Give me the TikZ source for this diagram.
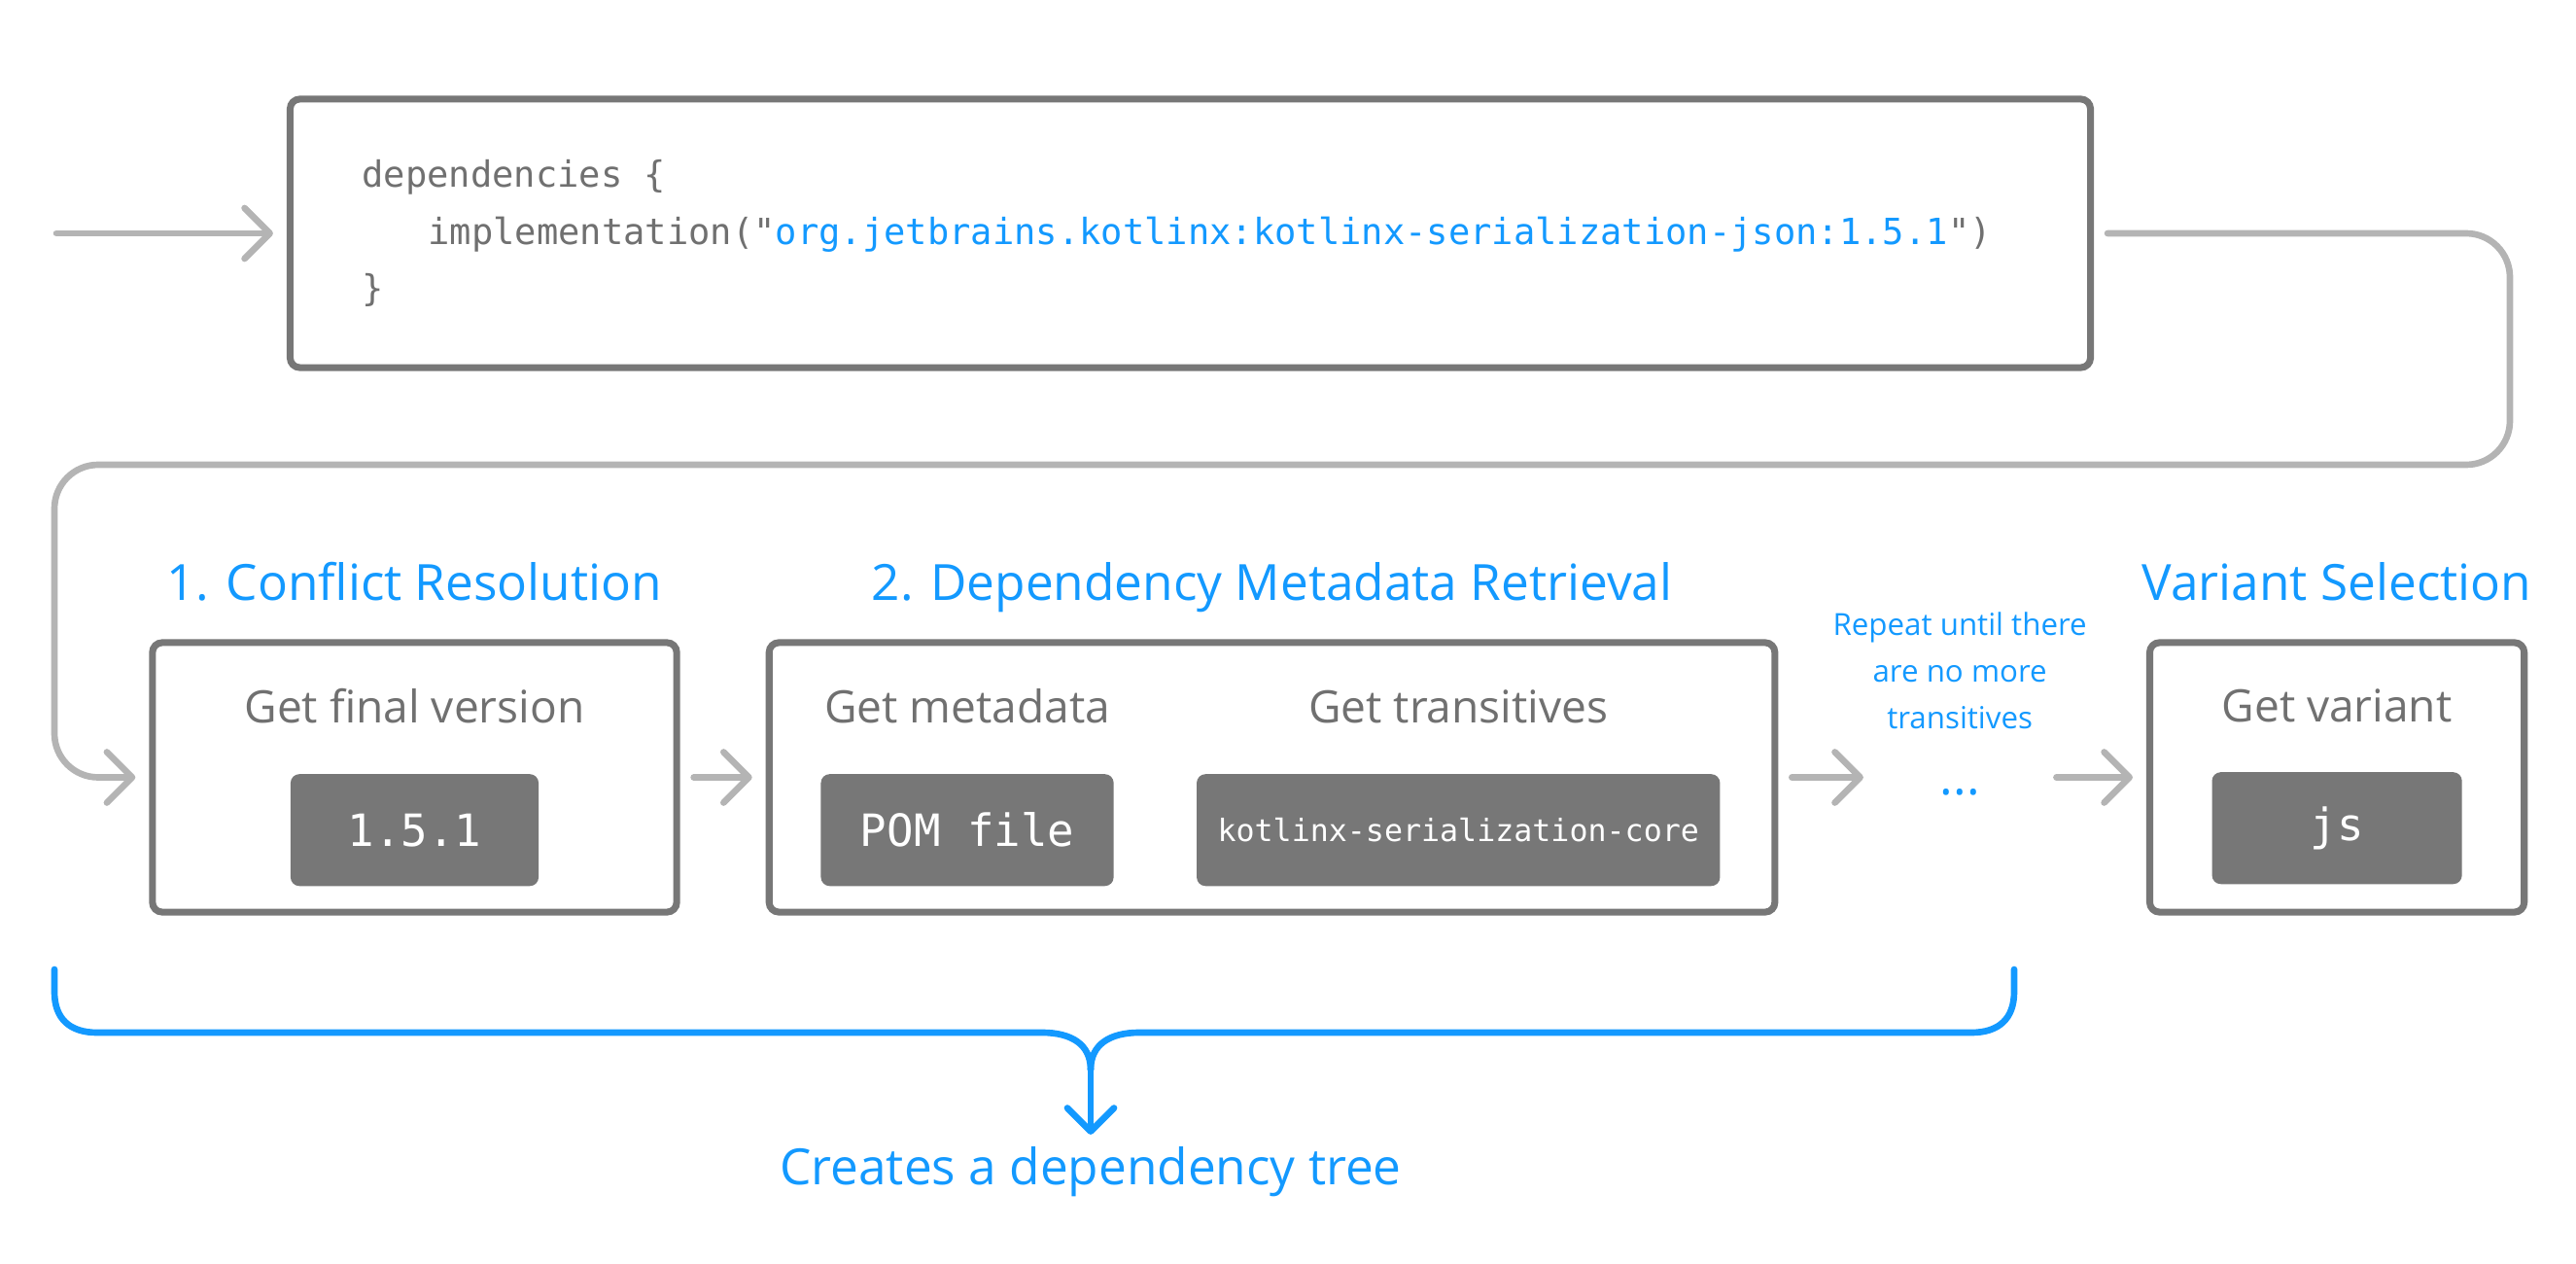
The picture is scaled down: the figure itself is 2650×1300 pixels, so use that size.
\documentclass[tikz,border=0pt]{standalone}
\usepackage{fontspec}
\setmainfont{Open Sans}
\setmonofont{DejaVu Sans Mono}
\usepackage{tikz}
\usetikzlibrary{arrows.meta}
\usetikzlibrary{positioning}

\definecolor{frame}{HTML}{777777}
\definecolor{wire}{HTML}{B4B4B4}
\definecolor{accent}{HTML}{1399FF}
\definecolor{label}{HTML}{707070}

\tikzset{every picture/.style={node distance=10mm, >={Straight Barb[length=2.6mm,width=5.2mm,round]}}}
\tikzstyle{codebox}  = [draw=frame, line width=2pt, rounded corners=1mm, minimum height=27.6mm, text width=170.3mm, align=left, inner xsep=7.4mm, text=label, font=\ttfamily\fontsize{10.55}{16.7}\selectfont]
\tikzstyle{stage}    = [draw=frame, line width=2pt, rounded corners=1mm, minimum height=27.7mm, inner sep=0pt]
\tikzstyle{chip}     = [fill=frame, rounded corners=0.9mm, minimum height=11.5mm, inner sep=0pt, text=white, font=\ttfamily\fontsize{13}{13}\selectfont]
\tikzstyle{caption}  = [text=label, inner sep=0pt, font=\fontsize{13.1}{15}\selectfont]
\tikzstyle{heading}  = [text=accent, inner sep=0pt, text depth=0pt, font=\fontsize{14.6}{17}\selectfont]
\tikzstyle{note}     = [text=accent, inner sep=0pt, align=center, font=\fontsize{8.9}{13.6}\selectfont]
\tikzstyle{to}       = [->, draw=wire, line width=1.9pt, line cap=round, shorten >=1.4mm, shorten <=1.4mm]
\tikzstyle{brace}    = [draw=accent, line width=1.9pt, line cap=round, line join=round]
\tikzstyle{terminal} = [coordinate]

\begin{document}
\begin{tikzpicture}[x=0.01cm, y=-0.01cm]
	\useasboundingbox (0,0) rectangle (2650,1300);

	\node[codebox]	(code)	at (1224.5,240)	{dependencies\hspace{0.602em}\{\\\hspace*{6.8mm}implementation("\textcolor{accent}{org.jetbrains.kotlinx:kotlinx-serialization-json:1.5.1}")\\\}};

	\node[stage, minimum width=53.9mm]	(resolve)	at (426.5,799.5)	{};
	\node[stage, minimum width=103.4mm]	(metadata)	[right=8.8mm of resolve]	{};
	\node[inner sep=0pt, minimum width=16.9mm, text height=10pt, text depth=0pt, text=accent, font=\fontsize{14.6}{17}\selectfont]	(dots)	[right=10.15mm of metadata]	{...};
	\node[stage, minimum width=38.5mm]	(variant)	[right=10.65mm of dots]	{};

	\node[heading]	(h1)	[above=3.9mm of resolve]	{1. Conflict Resolution};
	\node[heading]	(h2)	[above=3.9mm of metadata]	{2. Dependency Metadata Retrieval};
	\node[heading]	(h3)	[above=3.9mm of variant]	{Variant Selection};
	\node[note]	(repeat)	[above=3.1mm of dots]	{Repeat until there\\are no more\\transitives};

	\node[chip, minimum width=25.5mm]	(version)	[below=13.8mm of resolve.north]	{1.5.1};
	\node[chip, minimum width=30.1mm]	(pom)	[below right=13.8mm and 5.6mm of metadata.north west]	{POM file};
	\node[chip, minimum width=53.8mm, font=\ttfamily\fontsize{9}{9}\selectfont]	(core)	[right=8.4mm of pom]	{kotlinx-serialization-core};
	\node[chip, minimum width=25.7mm]	(js)	[below=13.6mm of variant.north]	{js};

	\node[caption]	[above=5.1mm of version]	{Get final version};
	\node[caption]	[above=5.1mm of pom]	{Get metadata};
	\node[caption]	[above=5.1mm of core]	{Get transitives};
	\node[caption]	[above=5mm of js]	{Get variant};

	\node[terminal]	(input)	at (44,240)	{};
	\node[terminal]	(bendR)	at (2582,478)	{};
	\node[terminal]	(bendL)	at (56,478)	{};
	\node[terminal]	(fork)	at (1122,1100)	{};
	\node[text=accent, font=\fontsize{14.6}{17}\selectfont]	(tree)	at (1122,1205)	{Creates a dependency tree};

	\draw[to] (input) -- (code);
	\draw[to, rounded corners=4.5mm] (code.east) -| (bendR) -- (bendL) |- (resolve.west);
	\draw[to] (resolve) -- (metadata);
	\draw[to] (metadata) -- (dots);
	\draw[to] (dots) -- (variant);

	\draw[brace] (56,997) -- (56,1020) .. controls (56,1048) and (72,1062) .. (100,1062) -- (1072,1062) .. controls (1102,1062) and (1122,1074) .. (fork);
	\draw[brace] (2072,997) -- (2072,1020) .. controls (2072,1048) and (2056,1062) .. (2028,1062) -- (1172,1062) .. controls (1142,1062) and (1122,1074) .. (fork);
	\draw[brace, -{Straight Barb[length=2.4mm,width=4.8mm,round]}] (fork) -- (tree.north);
\end{tikzpicture}
\end{document}
